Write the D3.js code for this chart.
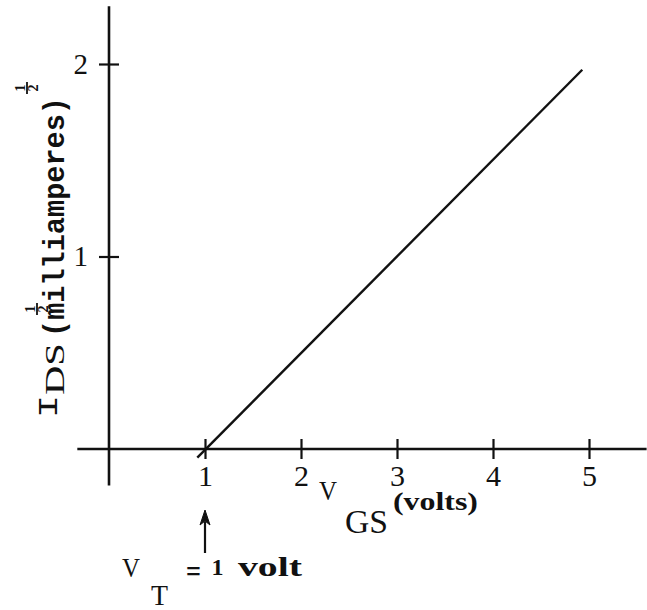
<!DOCTYPE html>
<html>
<head>
<meta charset="utf-8">
<script src="https://cdn.jsdelivr.net/npm/d3@7"></script>
<style>
  html, body { margin: 0; padding: 0; background: #fff; }
  svg { display: block; }
  text { fill: #111; }
</style>
</head>
<body>
<svg id="chart" width="647" height="610"></svg>
<script>
// Gate voltage ticks (volts) and square-root drain current ticks
const xTicks = [1, 2, 3, 4, 5];
const yTicks = [1, 2];

// Drawn extent of the two axes, in data units
const xAxisExtent = [-0.33, 5.6];
const yAxisExtent = [-0.19, 2.3];

// Transfer characteristic: sqrt(I_DS) versus V_GS
const lineVgs = [0.92, 4.93];
const lineSqrtIds = [-0.045, 1.97];

// Threshold voltage marked below the axis
const thresholdV = 1;

const svg = d3.select("#chart");
const ink = "#111";

const x = d3.scaleLinear().domain([0, 5]).range([109, 589]);
const y = d3.scaleLinear().domain([0, 2]).range([449, 64]);

// Axis lines through the origin
svg.append("line")
  .attr("x1", x(xAxisExtent[0])).attr("x2", x(xAxisExtent[1]))
  .attr("y1", y(0)).attr("y2", y(0))
  .attr("stroke", ink).attr("stroke-width", 2.6);
svg.append("line")
  .attr("x1", x(0)).attr("x2", x(0))
  .attr("y1", y(yAxisExtent[0])).attr("y2", y(yAxisExtent[1]))
  .attr("stroke", ink).attr("stroke-width", 2.6);

// Bottom axis: ticks cross the line
const gx = svg.append("g")
  .attr("transform", `translate(0,${y(0)})`)
  .call(d3.axisBottom(x).tickValues(xTicks).tickSize(10).tickPadding(6).tickFormat(d3.format("d")));
gx.select(".domain").remove();
gx.selectAll(".tick line").attr("y1", -10).attr("stroke", ink).attr("stroke-width", 2.2);
gx.selectAll(".tick text")
  .attr("font-family", "'Liberation Serif', serif")
  .attr("font-size", 30)
  .attr("fill", ink);

// Left axis: ticks cross the line
const gy = svg.append("g")
  .attr("transform", `translate(${x(0)},0)`)
  .call(d3.axisLeft(y).tickValues(yTicks).tickSize(10).tickPadding(11).tickFormat(d3.format("d")));
gy.select(".domain").remove();
gy.selectAll(".tick line").attr("x1", 10).attr("stroke", ink).attr("stroke-width", 2.2);
gy.selectAll(".tick text")
  .attr("font-family", "'Liberation Serif', serif")
  .attr("font-size", 29)
  .attr("fill", ink);

// The characteristic line
const pts = lineVgs.map((v, i) => [v, lineSqrtIds[i]]);
svg.append("path")
  .attr("d", d3.line().x(d => x(d[0])).y(d => y(d[1]))(pts))
  .attr("fill", "none")
  .attr("stroke", ink)
  .attr("stroke-width", 2.4);

// ---- Y axis title, rotated to read upwards ----
const serif = "'Liberation Serif', serif";
const mono = "'Liberation Mono', monospace";
const ylab = svg.append("g").attr("transform", "rotate(-90)");

// place text with its baseline at screen x = bx, starting at screen y = sy and running upwards
function yText(str, bx, sy, opts) {
  const t = ylab.append("text")
    .attr("x", -sy).attr("y", bx)
    .attr("font-family", opts.family)
    .attr("font-size", opts.size)
    .attr("font-weight", opts.weight || "normal")
    .text(str);
  if (opts.len) t.attr("textLength", opts.len).attr("lengthAdjust", "spacingAndGlyphs");
  return t;
}
// small stacked one-half, centred at screen (cx, cy)
function yHalf(cx, cy) {
  ylab.append("text").attr("x", -cy).attr("y", cx - 2)
    .attr("text-anchor", "middle").attr("font-family", serif).attr("font-size", 14)
    .attr("font-weight", "bold").text("1");
  ylab.append("line").attr("x1", -cy - 6).attr("x2", -cy + 6)
    .attr("y1", cx).attr("y2", cx).attr("stroke", ink).attr("stroke-width", 1.8);
  ylab.append("text").attr("x", -cy).attr("y", cx + 11)
    .attr("text-anchor", "middle").attr("font-family", serif).attr("font-size", 14)
    .attr("font-weight", "bold").text("2");
}
yText("I", 57, 418, { family: mono, size: 28, len: 23 });
yText("DS", 64, 395, { family: serif, size: 28, len: 52 });
yHalf(37, 309);
yText("(milliamperes)", 64, 337, { family: mono, size: 30, weight: "bold", len: 240 });
yHalf(27, 88);

// ---- X axis title ----
function hText(str, ax, by, opts) {
  const t = svg.append("text")
    .attr("x", ax).attr("y", by)
    .attr("text-anchor", opts.anchor || "start")
    .attr("font-family", opts.family)
    .attr("font-size", opts.size)
    .attr("font-weight", opts.weight || "normal")
    .text(str);
  if (opts.len) t.attr("textLength", opts.len).attr("lengthAdjust", "spacingAndGlyphs");
  return t;
}
hText("V", 319, 500, { family: serif, size: 27, len: 18 });
hText("GS", 345, 533, { family: serif, size: 34, len: 43 });
hText("(volts)", 393, 510, { family: serif, size: 26, weight: "bold", len: 85 });

// ---- Threshold marker ----
const ax = x(thresholdV);
svg.append("line")
  .attr("x1", ax).attr("x2", ax).attr("y1", 522).attr("y2", 553)
  .attr("stroke", ink).attr("stroke-width", 2.2);
svg.append("path")
  .attr("d", `M${ax},510 L${ax - 5},525 L${ax},521 L${ax + 5},525 Z`)
  .attr("fill", ink).attr("stroke", ink).attr("stroke-width", 1);

hText("V", 122, 577, { family: serif, size: 27, len: 18 });
hText("T", 151, 605, { family: serif, size: 30, len: 17 });
hText("=", 186, 582, { family: serif, size: 32, weight: "bold", len: 15 });
hText("1", 217.5, 575, { family: serif, size: 24, weight: "bold", anchor: "middle" });
hText("volt", 238, 576, { family: serif, size: 27, weight: "bold", len: 64 });
</script>
</body>
</html>
